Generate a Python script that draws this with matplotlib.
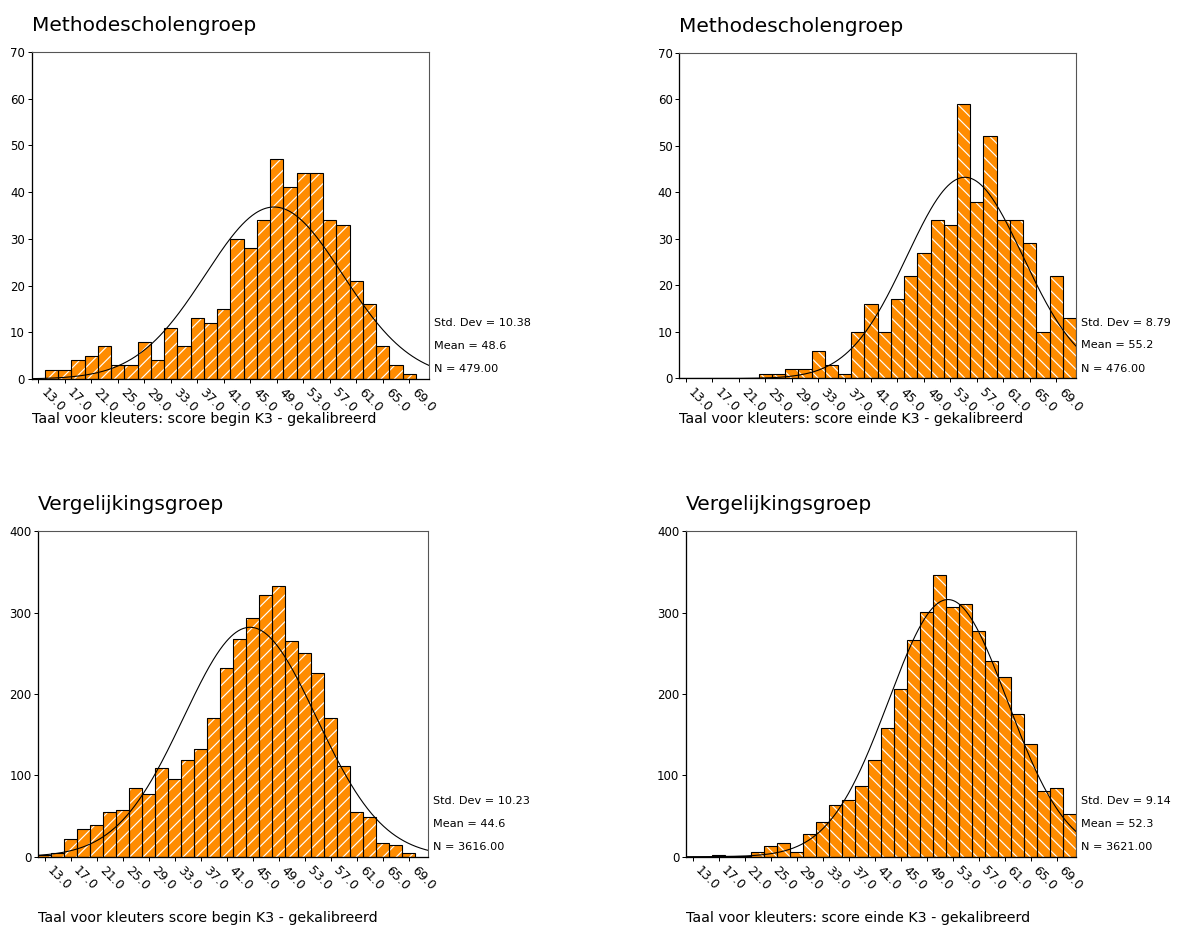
import numpy as np
import matplotlib
matplotlib.use("Agg")
import matplotlib.pyplot as plt

W, H, DPI = 1180, 928, 120
plt.rcParams["font.family"] = ["DejaVu Sans"]
plt.rcParams["hatch.linewidth"] = 0.7


def pt(px):
    """Pixels to points at the figure dpi."""
    return px * 72.0 / DPI


# ---- data -------------------------------------------------------------
bin_centers = list(range(13, 73, 2))          # score bins of width 2
bin_width = 2
tick_values = list(range(13, 70, 4))
tick_labels = [f"{v:.1f}" for v in tick_values]

counts_method_begin = [0, 2, 2, 4, 5, 7, 3, 3, 8, 4, 11, 7, 13, 12, 15,
                       30, 28, 34, 47, 41, 44, 44, 34, 33, 21, 16, 7, 3, 1, 0]
counts_method_end = [0, 0, 0, 0, 0, 0, 1, 1, 2, 2, 6, 3, 1, 10, 16,
                     10, 17, 22, 27, 34, 33, 59, 38, 52, 34, 34, 29, 10, 22, 13]
counts_comp_begin = [2, 5, 22, 34, 39, 55, 58, 85, 77, 109, 95, 119, 133, 171, 232,
                     268, 294, 322, 333, 265, 251, 226, 171, 111, 55, 49, 17, 14, 4, 0]
counts_comp_end = [0, 0, 2, 1, 1, 6, 13, 17, 6, 28, 43, 64, 70, 87, 119,
                   158, 206, 266, 301, 346, 307, 311, 277, 240, 221, 175, 139, 81, 84, 52]

std_devs = [10.38, 8.79, 10.23, 9.14]
means = [48.6, 55.2, 44.6, 52.3]
totals = [479, 476, 3616, 3621]

titles = ["Methodescholengroep", "Methodescholengroep",
          "Vergelijkingsgroep", "Vergelijkingsgroep"]
xlabels = ["Taal voor kleuters: score begin K3 - gekalibreerd",
           "Taal voor kleuters: score einde K3 - gekalibreerd",
           "Taal voor kleuters score begin K3 - gekalibreerd",
           "Taal voor kleuters: score einde K3 - gekalibreerd"]

# ---- layout (pixel boxes: left, right, top, bottom) --------------------
boxes = [(31.7, 429, 52, 379), (679.3, 1076, 52.5, 378.5),
         (38.3, 428, 531.3, 856.7), (686, 1076, 531.3, 856.7)]
ymax = [70, 70, 400, 400]
ystep = [10, 10, 100, 100]
hatches = ["///", "\\\\\\", "///", "\\\\\\"]
xlabel_base = [423, 423, 922, 922]
all_counts = [counts_method_begin, counts_method_end,
              counts_comp_begin, counts_comp_end]

ORANGE = "#ff8c00"

fig = plt.figure(figsize=(W / DPI, H / DPI), dpi=DPI)
fig.patch.set_facecolor("white")

for i in range(4):
    l, r, t, b = boxes[i]
    ax = fig.add_axes([l / W, 1 - b / H, (r - l) / W, (b - t) / H])
    counts = np.array(all_counts[i])
    centers = np.array(bin_centers)
    keep = counts > 0

    ax.bar(centers[keep], counts[keep], width=bin_width, color=ORANGE,
           edgecolor="white", hatch=hatches[i], linewidth=0, zorder=2)
    ax.bar(centers[keep], counts[keep], width=bin_width, fill=False,
           edgecolor="black", linewidth=pt(1.1), zorder=3)

    xs = np.linspace(11, 73, 500)
    mu, sd, n = means[i], std_devs[i], totals[i]
    ys = n * bin_width * np.exp(-0.5 * ((xs - mu) / sd) ** 2) / (sd * np.sqrt(2 * np.pi))
    ax.plot(xs, ys, color="black", linewidth=pt(1.1), zorder=4)

    ax.set_xlim(12, 72)
    ax.set_ylim(0, ymax[i])
    ax.set_yticks(np.arange(0, ymax[i] + 1, ystep[i]))
    ax.set_xticks(tick_values)
    ax.set_xticklabels(tick_labels, rotation=-45, ha="left", va="top",
                       rotation_mode="default")
    ax.tick_params(axis="y", direction="out", length=pt(4), width=pt(1),
                   pad=pt(2.7), labelsize=pt(11.8))
    ax.tick_params(axis="x", direction="out", length=pt(4), width=pt(1),
                   pad=pt(3), labelsize=pt(12.5))
    for side in ("left", "bottom"):
        ax.spines[side].set_color("black")
        ax.spines[side].set_linewidth(pt(1.3))
    for side in ("top", "right"):
        ax.spines[side].set_color("#555555")
        ax.spines[side].set_linewidth(pt(1.1))

    # title above the plot
    fig.text(l / W, 1 - (t - 21) / H, titles[i], fontsize=pt(20.1),
             ha="left", va="baseline")
    # axis caption
    fig.text(l / W, 1 - xlabel_base[i] / H, xlabels[i],
             fontsize=pt(14.3), ha="left", va="baseline")
    # summary statistics to the right of the plot
    stats = [f"Std. Dev = {sd:.2f}", f"Mean = {mu:.1f}", f"N = {n:.2f}"]
    for k, s in enumerate(stats):
        fig.text((r + 5) / W, 1 - (b - 56 + 23 * k) / H, s,
                 fontsize=pt(11.2), ha="left", va="center")

fig.savefig("out.png", dpi=DPI)
